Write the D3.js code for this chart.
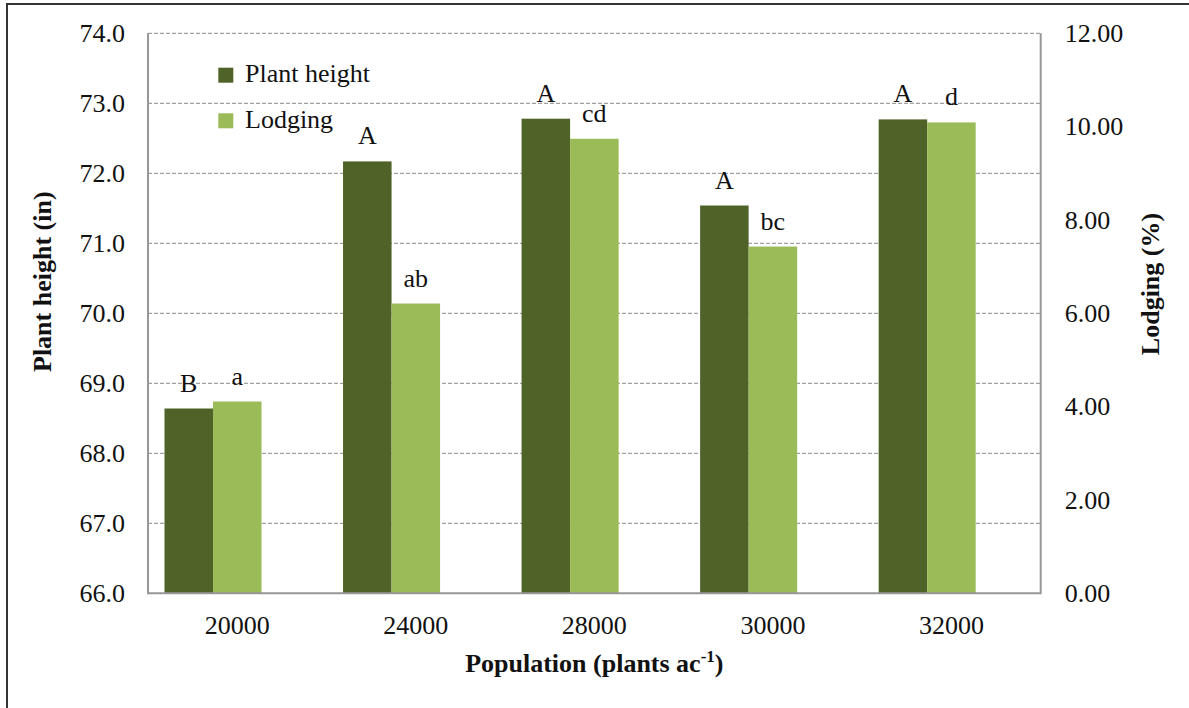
<!DOCTYPE html>
<html>
<head>
<meta charset="utf-8">
<script src="https://cdn.jsdelivr.net/npm/d3@7/dist/d3.min.js"></script>
<style>
  html, body { margin: 0; padding: 0; background: #fff; }
  svg { display: block; }
  text { font-family: "Liberation Serif", "Times New Roman", serif; fill: #111; }
</style>
</head>
<body>
<div id="chart"></div>
<script>
// ---- data ----
const categories = ["20000", "24000", "28000", "30000", "32000"];
const plantHeight = [68.64, 72.17, 72.78, 71.54, 72.77];
const lodging = [4.11, 6.21, 9.74, 7.43, 10.09];
const heightLetters = ["B", "A", "A", "A", "A"];
const lodgingLetters = ["a", "ab", "cd", "bc", "d"];
const seriesNames = ["Plant height", "Lodging"];
const leftTicks = [66, 67, 68, 69, 70, 71, 72, 73, 74];
const rightTicks = [0, 2, 4, 6, 8, 10, 12];

// ---- layout ----
const W = 1189, H = 708;
const plot = { left: 148, right: 1040.7, top: 33.3, bottom: 593.3 };
const colors = { "Plant height": "#4F6228", "Lodging": "#9BBB59" };
const fontSize = 26;

const svg = d3.select("#chart").append("svg").attr("width", W).attr("height", H);
svg.append("rect").attr("width", W).attr("height", H).attr("fill", "#fff");

// outer frame
svg.append("rect").attr("x", 7).attr("y", 4).attr("width", 1400).attr("height", 900)
  .attr("fill", "none").attr("stroke", "#333").attr("stroke-width", 2);

const x0 = d3.scaleBand().domain(categories).range([plot.left, plot.right]).padding(0);
// Excel layout reserves a third (empty) slot in each category
const x1 = d3.scaleBand().domain([...seriesNames, "_empty"]).range([0, x0.bandwidth()])
  .paddingInner(0).paddingOuter(0.34);
const yL = d3.scaleLinear().domain([66, 74]).range([plot.bottom, plot.top]);
const yR = d3.scaleLinear().domain([0, 12]).range([plot.bottom, plot.top]);

// gridlines
svg.append("g").selectAll("line").data(leftTicks.filter(t => t > 66)).join("line")
  .attr("x1", plot.left).attr("x2", plot.right)
  .attr("y1", d => yL(d)).attr("y2", d => yL(d))
  .attr("stroke", "#8a8a8a").attr("stroke-width", 1).attr("stroke-dasharray", "4,2");

// bars
const rows = categories.map((c, i) => ({ c, h: plantHeight[i], l: lodging[i], hl: heightLetters[i], ll: lodgingLetters[i] }));
const g = svg.append("g");
g.selectAll("rect.h").data(rows).join("rect").attr("class", "h")
  .attr("x", d => x0(d.c) + x1("Plant height"))
  .attr("width", x1.bandwidth())
  .attr("y", d => yL(d.h))
  .attr("height", d => yL(66) - yL(d.h))
  .attr("fill", colors["Plant height"]);
g.selectAll("rect.l").data(rows).join("rect").attr("class", "l")
  .attr("x", d => x0(d.c) + x1("Lodging"))
  .attr("width", x1.bandwidth())
  .attr("y", d => yR(d.l))
  .attr("height", d => yR(0) - yR(d.l))
  .attr("fill", colors["Lodging"]);

// letters
const off = 17;
g.selectAll("text.hl").data(rows).join("text").attr("class", "hl")
  .attr("x", d => x0(d.c) + x1("Plant height") + x1.bandwidth() / 2)
  .attr("y", d => yL(d.h) - off)
  .attr("text-anchor", "middle").attr("font-size", fontSize).text(d => d.hl);
g.selectAll("text.ll").data(rows).join("text").attr("class", "ll")
  .attr("x", d => x0(d.c) + x1("Lodging") + x1.bandwidth() / 2)
  .attr("y", d => yR(d.l) - off)
  .attr("text-anchor", "middle").attr("font-size", fontSize).text(d => d.ll);

// plot border (left, bottom, right)
svg.append("path")
  .attr("d", `M${plot.left},${plot.top}V${plot.bottom}H${plot.right}V${plot.top}`)
  .attr("fill", "none").attr("stroke", "#979797").attr("stroke-width", 2);

// axes
const axL = svg.append("g").attr("transform", `translate(${plot.left},0)`)
  .call(d3.axisLeft(yL).tickValues(leftTicks).tickFormat(d3.format(".1f")).tickSize(0).tickPadding(23));
const axR = svg.append("g").attr("transform", `translate(${plot.right},0)`)
  .call(d3.axisRight(yR).tickValues(rightTicks).tickFormat(d3.format(".2f")).tickSize(0).tickPadding(24));
const axB = svg.append("g").attr("transform", `translate(0,${plot.bottom})`)
  .call(d3.axisBottom(x0).tickSize(0).tickPadding(22));
[axL, axR, axB].forEach(a => {
  a.select(".domain").remove();
  a.selectAll("text").attr("font-size", fontSize).attr("font-family", "Liberation Serif, serif").attr("fill", "#111");
});

// legend
const leg = svg.append("g");
seriesNames.forEach((s, i) => {
  const yy = 67.7 + i * 45.6;
  leg.append("rect").attr("x", 218.3).attr("y", yy).attr("width", 15).attr("height", 15).attr("fill", colors[s]);
  leg.append("text").attr("x", 245).attr("y", yy + 14.6).attr("font-size", fontSize).text(s);
});

// axis titles
const xt = svg.append("text").attr("x", (plot.left + plot.right) / 2).attr("y", 671.7)
  .attr("text-anchor", "middle").attr("font-size", fontSize).attr("font-weight", "bold");
xt.append("tspan").text("Population (plants ac");
xt.append("tspan").attr("font-size", 17).attr("dy", -10).text("-1");
xt.append("tspan").attr("dy", 10).text(")");

svg.append("text").attr("transform", `translate(51,281.7) rotate(-90)`)
  .attr("text-anchor", "middle").attr("font-size", fontSize).attr("font-weight", "bold")
  .text("Plant height (in)");
svg.append("text").attr("transform", `translate(1158.5,284) rotate(-90)`)
  .attr("text-anchor", "middle").attr("font-size", fontSize).attr("font-weight", "bold")
  .text("Lodging (%)");
</script>
</body>
</html>
